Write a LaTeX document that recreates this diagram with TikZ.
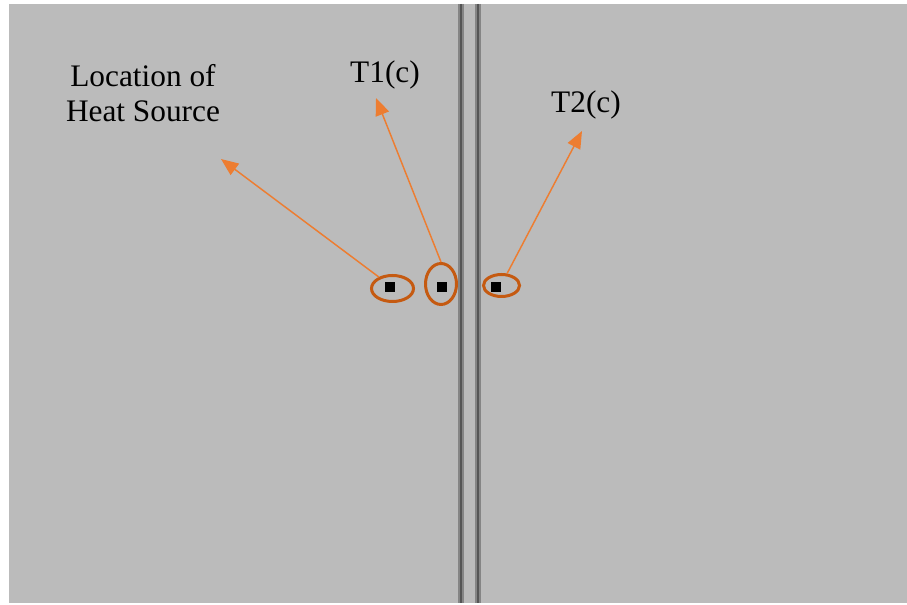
\documentclass[tikz,border=0pt]{standalone}
\usepackage{fontspec}
\setmainfont{Liberation Serif}
\usetikzlibrary{shapes.geometric,arrows.meta}
\definecolor{panel}{HTML}{BBBBBB}
\definecolor{ringc}{HTML}{C55A11}
\definecolor{arrowc}{HTML}{ED7D31}
\definecolor{seamout}{HTML}{858585}
\definecolor{seamin}{HTML}{555555}
\tikzset{
  ring/.style={draw=ringc, line width=2.25pt, ellipse, inner sep=0pt},
  probe/.style={fill=black, minimum size=7.5pt, inner sep=0pt},
  pointer/.style={draw=arrowc, line width=1.1pt, -{Triangle[length=13pt,width=10.5pt]}},
  label/.style={font=\fontsize{23.5}{26.25}\selectfont, inner sep=0pt, align=center, text=black},
}
\begin{document}
\begin{tikzpicture}[x=0.75pt,y=-0.75pt]
\useasboundingbox (0,0) rectangle (907,605);
\fill[white] (0,0) rectangle (907,605);
\fill[panel] (9,4) rectangle (907,603);
% seams
\foreach \sx in {461,478}{
  \draw[seamout, line width=4pt] (\sx,4) -- (\sx,603);
  \draw[seamin, line width=1.8pt] (\sx,4) -- (\sx,603);
}
% probes
\node[probe] (s1) at (390,287) {};
\node[probe] (s2) at (442,287) {};
\node[probe] (s3) at (496,287) {};
% rings
\node[ring, minimum width=31.5pt, minimum height=19.5pt] (e1) at (392.5,288.5) {};
\node[ring, minimum width=23.25pt, minimum height=30.75pt] (e2) at (441,284) {};
\node[ring, minimum width=27pt, minimum height=16.5pt] (e3) at (501.5,285.5) {};
% labels
\node[label, anchor=base] (lhs) at (143,122) {Location of\\Heat Source};
\node[label, anchor=base] (lt1) at (385,83) {T1(c)};
\node[label, anchor=base] (lt2) at (586,113) {T2(c)};
% arrow tips
\coordinate (c1) at (221,159);
\coordinate (c2) at (376,98);
\coordinate (c3) at (582,131);
\draw[pointer] (e1.140) -- (c1);
\draw[pointer] (e2.north) -- (c2);
\draw[pointer] (e3.65) -- (c3);
\end{tikzpicture}
\end{document}
